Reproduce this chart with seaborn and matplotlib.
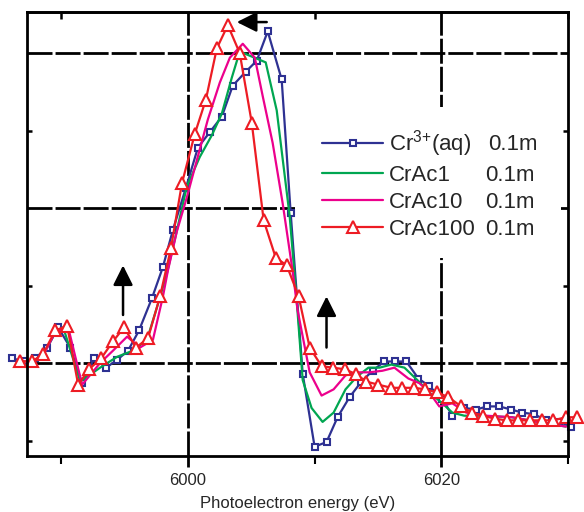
import numpy as np
import pandas as pd
import matplotlib
matplotlib.use("Agg")
import matplotlib.pyplot as plt
from matplotlib.patches import Rectangle
import seaborn as sns

# Cr K-edge XANES (arbitrary units)
cr_aq_e = [5986.14, 5987.09, 5987.95, 5988.90, 5989.76, 5990.71, 5991.65, 5992.60, 5993.54, 5994.41,
           5995.28, 5996.14, 5997.17, 5998.03, 5998.82, 5999.84, 6000.79, 6001.73, 6002.68, 6003.54,
           6004.57, 6005.43, 6006.30, 6007.40, 6008.11, 6009.06, 6010.00, 6010.94, 6011.81, 6012.76,
           6013.70, 6014.57, 6015.51, 6016.38, 6017.24, 6018.19, 6019.06, 6020.08, 6020.87, 6021.81,
           6022.76, 6023.62, 6024.57, 6025.51, 6026.38, 6027.32, 6028.27, 6029.29, 6030.24]
cr_aq_mu = [0.03, 0.01, 0.03, 0.10, 0.23, 0.10, -0.13, 0.03, -0.03, 0.02,
            0.08, 0.21, 0.42, 0.62, 0.86, 1.13, 1.39, 1.49, 1.59, 1.79,
            1.88, 1.95, 2.14, 1.83, 0.97, -0.07, -0.54, -0.51, -0.35, -0.22,
            -0.12, -0.05, 0.01, 0.01, 0.01, -0.10, -0.15, -0.23, -0.34, -0.29,
            -0.30, -0.28, -0.28, -0.30, -0.32, -0.33, -0.37, -0.38, -0.41]

crac1_e = [5986.77, 5987.72, 5988.58, 5989.53, 5990.16, 5991.50, 5993.07, 5994.41, 5995.67, 5996.77,
           5997.56, 5998.35, 5999.06, 5999.92, 6000.94, 6001.89, 6002.68, 6003.46, 6004.09, 6006.14,
           6007.01, 6008.03, 6008.58, 6009.06, 6009.76, 6010.63, 6011.50, 6012.44, 6013.31, 6014.25,
           6015.12, 6016.06, 6017.09, 6018.11, 6019.06, 6020.08, 6020.87, 6021.81, 6022.99, 6025.59,
           6028.27, 6029.84]
crac1_mu = [0.01, 0.01, 0.05, 0.20, 0.23, -0.12, -0.03, 0.04, 0.08, 0.15,
            0.36, 0.58, 0.83, 1.14, 1.33, 1.47, 1.61, 1.84, 2.01, 1.94,
            1.63, 0.95, 0.41, -0.11, -0.29, -0.38, -0.32, -0.17, -0.09, -0.03,
            -0.03, -0.01, -0.03, -0.11, -0.19, -0.26, -0.32, -0.34, -0.34, -0.35,
            -0.39, -0.41]

crac10_e = [5986.77, 5987.72, 5988.58, 5989.53, 5990.55, 5991.65, 5993.07, 5994.09, 5995.20, 5996.22,
            5997.24, 5998.03, 5998.43, 5999.13, 5999.92, 6000.71, 6001.57, 6002.52, 6003.31, 6004.33,
            6005.28, 6005.91, 6006.69, 6007.48, 6008.27, 6008.66, 6009.61, 6010.55, 6011.50, 6012.44,
            6013.31, 6014.33, 6015.35, 6016.30, 6017.40, 6018.27, 6019.06, 6019.84, 6020.87, 6021.97,
            6023.54, 6025.59, 6028.27, 6029.84]
crac10_mu = [0.01, 0.01, 0.05, 0.20, 0.23, -0.14, 0.00, 0.08, 0.17, 0.10,
             0.15, 0.43, 0.60, 0.85, 1.07, 1.31, 1.57, 1.81, 1.97, 2.06,
             1.97, 1.72, 1.42, 1.03, 0.59, 0.34, -0.06, -0.21, -0.17, -0.08,
             -0.06, -0.06, -0.05, -0.03, -0.10, -0.13, -0.19, -0.28, -0.26, -0.32,
             -0.34, -0.35, -0.39, -0.41]

crac100_e = [5986.77, 5987.72, 5988.58, 5989.53, 5990.47, 5991.34, 5992.20, 5993.15, 5994.09, 5994.96,
             5995.91, 5996.85, 5997.80, 5998.66, 5999.53, 6000.55, 6001.42, 6002.28, 6003.15, 6004.09,
             6005.04, 6005.98, 6006.93, 6007.80, 6008.74, 6009.61, 6010.55, 6011.42, 6012.36, 6013.23,
             6014.09, 6015.04, 6016.06, 6016.93, 6017.87, 6018.74, 6019.69, 6020.55, 6021.57, 6022.44,
             6023.31, 6024.25, 6025.20, 6026.06, 6027.01, 6027.95, 6028.82, 6029.84, 6030.71]
crac100_mu = [0.01, 0.01, 0.06, 0.21, 0.24, -0.14, -0.04, 0.03, 0.14, 0.23,
              0.10, 0.16, 0.43, 0.74, 1.16, 1.48, 1.70, 2.03, 2.18, 2.00,
              1.55, 0.92, 0.68, 0.63, 0.43, 0.10, -0.02, -0.03, -0.04, -0.07,
              -0.12, -0.14, -0.16, -0.16, -0.16, -0.17, -0.19, -0.22, -0.28, -0.32,
              -0.34, -0.36, -0.37, -0.37, -0.37, -0.37, -0.37, -0.35, -0.35]

names = ["Cr$^{3{+}}$(aq)", "CrAc1", "CrAc10", "CrAc100"]
conc = ["0.1m", "0.1m", "0.1m", "0.1m"]

sns.set_theme(style="ticks")
plt.rcParams["font.family"] = ["Liberation Sans", "DejaVu Sans"]
plt.rcParams["mathtext.default"] = "regular"

fig = plt.figure(figsize=(5.84, 5.12), dpi=100)
ax = fig.add_axes([27 / 584, 1 - 456 / 512, 541 / 584, 444 / 512])
ax.set_axisbelow(True)

common = dict(ax=ax, sort=False, estimator=None, clip_on=False, linewidth=1.6)
sns.lineplot(x=cr_aq_e, y=cr_aq_mu, color="#2E3192", marker="s", markersize=5,
             markerfacecolor="white", markeredgecolor="#2E3192", markeredgewidth=1.5,
             label=names[0], **common)
sns.lineplot(x=crac1_e, y=crac1_mu, color="#00A651", label=names[1], **common)
sns.lineplot(x=crac10_e, y=crac10_mu, color="#EC008C", label=names[2], **common)
sns.lineplot(x=crac100_e, y=crac100_mu, color="#ED1C24", marker="^", markersize=8,
             markerfacecolor="white", markeredgecolor="#ED1C24", markeredgewidth=1.5,
             label=names[3], **common)

ax.set_xlim(5987.3, 6029.95)
ax.set_ylim(-0.6, 2.265)

ax.set_xticks([6000, 6020])
ax.set_xticks([5990, 6010, 6030], minor=True)
ax.set_yticks([0, 1, 2])
ax.set_yticks([-0.5, 0.5, 1.5], minor=True)
ax.set_yticklabels([])
ax.tick_params(axis="x", which="major", direction="out", length=8, width=2,
               labelsize=12, pad=4, color="black")
ax.tick_params(axis="x", which="minor", direction="out", length=6, width=1.5, color="black")
ax.tick_params(axis="y", which="both", direction="in", left=True, right=True,
               length=3.5, width=1.8, color="black")
ax.tick_params(axis="y", which="major", length=0)

top = ax.secondary_xaxis("top")
top.set_xticks([5990, 6010, 6030])
top.set_xticklabels([])
top.tick_params(direction="in", length=5, width=1.8, color="black")

ax.grid(which="major", color="black", linewidth=2, linestyle=(0, (9, 1.1)))
for side in ["left", "right", "top", "bottom"]:
    ax.spines[side].set_visible(True)
    ax.spines[side].set_linewidth(2)
    ax.spines[side].set_color("black")
top.spines["top"].set_linewidth(2)

ax.set_xlabel("Photoelectron energy (eV)", fontsize=12, labelpad=6)
ax.set_ylabel("")

# white panel behind the legend that hides the grid there
ax.add_patch(Rectangle(((295 - 27) / 541, (456 - 258) / 444), (561 - 295) / 541, (258 - 107) / 444,
                       transform=ax.transAxes, facecolor="white", edgecolor="none", zorder=1.5))

# arrows marking the trends
arrow = dict(arrowstyle="-|>,head_length=0.6,head_width=0.3", color="black",
             lw=1.8, mutation_scale=20, shrinkA=0, shrinkB=0)
ax.annotate("", xy=(6003.86, 2.20), xytext=(6006.22, 2.20), arrowprops=arrow)
ax.annotate("", xy=(5994.88, 0.63), xytext=(5994.88, 0.31), arrowprops=arrow)
ax.annotate("", xy=(6010.94, 0.43), xytext=(6010.94, 0.10), arrowprops=arrow)

leg = ax.legend(loc="upper left", bbox_to_anchor=((322 - 27) / 541, (456 - 128) / 444),
                frameon=False, fontsize=16, handlelength=2.75, handletextpad=0.27,
                labelspacing=0.27, borderpad=0, borderaxespad=0, numpoints=1)

# second legend column with the concentration, aligned on each label's baseline
fig.canvas.draw()
inv = fig.transFigure.inverted()
for i, t in enumerate(leg.get_texts()):
    bx, by = t.get_transform().transform(t.get_position())
    x_px = 488 if i == 0 else 485
    fx, fy = inv.transform((x_px, by))
    fig.text(fx, fy, conc[i], fontsize=16, va="baseline", ha="left")

fig.savefig("out.png", dpi=100)
